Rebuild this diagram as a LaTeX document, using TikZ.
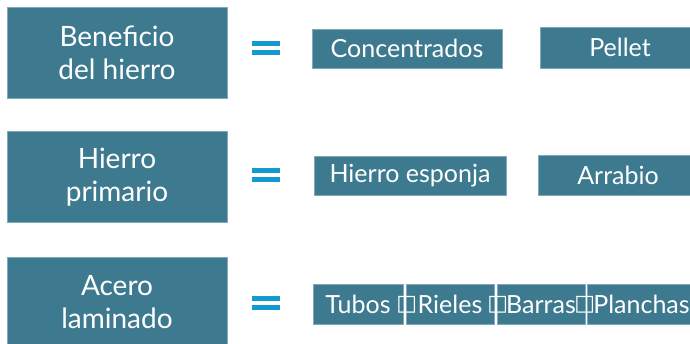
\documentclass[tikz,border=0pt]{standalone}
\usepackage{fontspec}
\setmainfont{Lato}
\newfontfamily\symbfont{DejaVu Sans}
\usepackage{tikz}
\definecolor{boxteal}{RGB}{61,122,143}
\definecolor{eqblue}{RGB}{20,153,209}

\begin{document}
\begin{tikzpicture}[x=1pt,y=-1pt,
    lbox/.style={fill=boxteal, draw=boxteal!65!white, line width=0.6pt, text=white,
        align=center, minimum width=220pt, minimum height=91pt, inner sep=0pt,
        font=\fontsize{28}{33}\selectfont},
    rbox/.style={fill=boxteal, draw=boxteal!65!white, line width=0.6pt, text=white,
        minimum height=40pt, inner sep=0pt, font=\fontsize{25}{28}\selectfont}]
    \clip (0,0) rectangle (690,343);
    \fill [white] (0,0) rectangle (690,343);

    % left column
    \node [lbox] (benef) at (117,52.5)  {Beneficio\\del hierro};
    \node [lbox] (prim)  at (117,177)   {Hierro\\primario};
    \node [lbox] (acero) at (117,302.5) {Acero\\laminado};

    % equals signs
    \foreach \y in {41,168,296}{%
        \fill [eqblue] (252,\y) rectangle (280,\y+5);
        \fill [eqblue] (252,\y+9) rectangle (280,\y+14);}

    % right column
    \node [rbox, minimum width=190pt, minimum height=39pt] (conc)    at (407,48.5)  {Concentrados};
    \node [rbox, minimum width=160pt, minimum height=41pt] (pellet)  at (620,47.5)  {Pellet};
    \node [rbox, minimum width=192pt, minimum height=39pt] (esponja) at (410,175.5) {Hierro esponja};
    \node [rbox, minimum width=160pt]                      (arrabio) at (618,175)   {Arrabio};

    \begin{scope}[every node/.append style={minimum height=43pt, font=\fontsize{24}{28}\selectfont}]
    \node [rbox, minimum width=90pt]  (tubos)    at (358,304.5)   {Tubos};
    \node [rbox, minimum width=88pt]  (rieles)   at (450,304.5)   {Rieles};
    \node [rbox, minimum width=88pt]  (barras)   at (541,304.5)   {Barras};
    \node [rbox, minimum width=109pt] (planchas) at (641.5,304.5) {Planchas};
    \end{scope}

    \foreach \b/\g/\d in {rieles/g1/1pt,barras/g2/1pt,planchas/g3/-2pt}{%
        \node [text=white, inner sep=0pt, font=\symbfont\fontsize{22}{22}\selectfont] (\g)
            at ([xshift=\d]\b.west) {□};}
\end{tikzpicture}
\end{document}
